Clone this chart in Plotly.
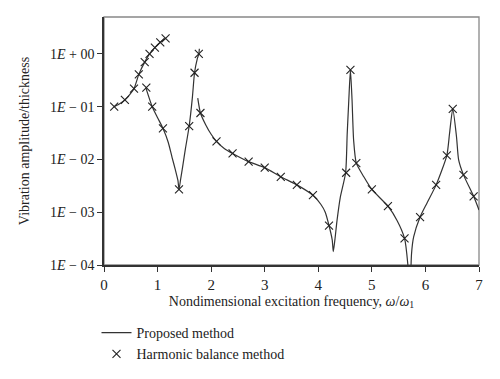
import plotly.graph_objects as go

# Proposed method (solid line), branches separated by None
b1_x = [0.19, 0.30, 0.39, 0.48, 0.56, 0.65, 0.76, 0.85, 0.95, 1.05, 1.15]
b1_y = [0.10, 0.115, 0.135, 0.17, 0.22, 0.41, 0.70, 1.00, 1.32, 1.66, 1.98]

b2_x = [0.78, 0.90, 1.00, 1.10, 1.20, 1.27, 1.33, 1.38, 1.40, 1.43, 1.47, 1.52, 1.59, 1.65, 1.69, 1.74, 1.77, 1.78]
b2_y = [0.23, 0.10, 0.062, 0.039, 0.021, 0.011, 0.0065, 0.0040, 0.0027, 0.0042, 0.0075, 0.016, 0.043, 0.15, 0.44, 0.80, 1.00, 1.25]

b3_x = [1.75, 1.80, 1.90, 2.00, 2.10, 2.25, 2.40, 2.70, 3.00, 3.30, 3.60, 3.90, 4.05, 4.13, 4.20,
        4.26, 4.28, 4.31, 4.35, 4.41, 4.51, 4.54, 4.57, 4.60, 4.63, 4.66, 4.71, 4.85, 5.00, 5.30,
        5.47, 5.61, 5.67, 5.70]
b3_y = [0.145, 0.076, 0.045, 0.030, 0.022, 0.016, 0.013, 0.0091, 0.0070, 0.0047, 0.0033, 0.0021, 0.0014, 0.0010, 0.00056,
        0.00030, 0.00018, 0.00030, 0.0007, 0.0019, 0.0056, 0.031, 0.135, 0.50, 0.135, 0.023, 0.0085, 0.0047, 0.0027, 0.0013,
        0.0007, 0.00032, 0.000107, 0.00003]

b4_x = [5.72, 5.74, 5.78, 5.90, 6.03, 6.20, 6.40, 6.45, 6.51, 6.58, 6.62, 6.71, 6.90, 7.00]
b4_y = [0.00003, 0.00016, 0.00034, 0.00081, 0.0015, 0.0033, 0.012, 0.031, 0.091, 0.027, 0.0098, 0.0051, 0.0020, 0.0011]

# Harmonic balance method (x markers)
hb_x = [0.19, 0.39, 0.56, 0.65, 0.76, 0.85, 0.95, 1.05, 1.15,
        0.79, 0.90, 1.10, 1.40, 1.59, 1.69, 1.77,
        1.80, 2.10, 2.40, 2.70, 3.00, 3.30, 3.60, 3.90, 4.20, 4.52, 4.60, 4.71, 5.00, 5.30, 5.61,
        5.90, 6.20, 6.40, 6.51, 6.71, 6.90]
hb_y = [0.10, 0.135, 0.22, 0.41, 0.70, 1.00, 1.32, 1.66, 1.98,
        0.23, 0.10, 0.039, 0.0027, 0.043, 0.44, 1.00,
        0.076, 0.022, 0.013, 0.0091, 0.0070, 0.0047, 0.0033, 0.0021, 0.00056, 0.0056, 0.50, 0.0085, 0.0027, 0.0013, 0.00032,
        0.00081, 0.0033, 0.012, 0.091, 0.0051, 0.0020]

y_tickvals = [1e-4, 1e-3, 1e-2, 1e-1, 1]
y_ticktext = ["1<i>E</i> − 04", "1<i>E</i> − 03", "1<i>E</i> − 02", "1<i>E</i> − 01", "1<i>E</i> + 00"]
x_tickvals = [0, 1, 2, 3, 4, 5, 6, 7]

line_x = b1_x + [None] + b2_x + [None] + b3_x + [None] + b4_x
line_y = b1_y + [None] + b2_y + [None] + b3_y + [None] + b4_y

FONT = "Liberation Serif"

fig = go.Figure()
fig.add_trace(go.Scatter(x=line_x, y=line_y, mode="lines", name="Proposed method",
                         line=dict(color="#333333", width=1.2, shape="spline", smoothing=0.6),
                         connectgaps=False))
fig.add_trace(go.Scatter(x=hb_x, y=hb_y, mode="markers", name="Harmonic balance method",
                         marker=dict(symbol="x-thin", size=8, line=dict(color="#222222", width=1.1)),
                         cliponaxis=False))

fig.update_layout(
    width=500, height=379,
    margin=dict(l=103.5, r=21.3, t=17.3, b=114.3, autoexpand=False),
    paper_bgcolor="white", plot_bgcolor="white",
    font=dict(family=FONT, size=14, color="#222222"),
    showlegend=True,
    legend=dict(x=-0.02, y=-0.21, xanchor="left", yanchor="top",
                font=dict(family=FONT, size=14, color="#222222"),
                bgcolor="rgba(0,0,0,0)", tracegroupgap=0, itemwidth=30),
    shapes=[dict(type="rect", xref="paper", yref="paper", x0=0, y0=0, x1=1, y1=1,
                 line=dict(color="#888888", width=1.3), layer="below")],
)
fig.update_xaxes(range=[0, 7], tickvals=x_tickvals, showgrid=False, zeroline=False,
                 automargin=False,
                 showline=True, linecolor="#333333", linewidth=1.5,
                 ticks="outside", ticklen=5, tickcolor="#333333",
                 tickfont=dict(family=FONT, size=15),
                 title=dict(text="Nondimensional excitation frequency, <i>ω</i>/<i>ω</i><sub>1</sub>",
                            font=dict(family=FONT, size=14), standoff=4))
fig.update_yaxes(type="log", range=[-4, 0.70], tickvals=y_tickvals, ticktext=y_ticktext,
                 showgrid=False, zeroline=False, automargin=False,
                 showline=True, linecolor="#333333", linewidth=1.5,
                 ticks="outside", ticklen=5, tickcolor="#333333",
                 tickfont=dict(family=FONT, size=14),
                 title=dict(text="Vibration amplitude/thickness", font=dict(family=FONT, size=14), standoff=17))

fig.write_html("out.html", config={"displayModeBar": False},
               post_script="document.body.style.margin='0';document.body.style.padding='0';")
